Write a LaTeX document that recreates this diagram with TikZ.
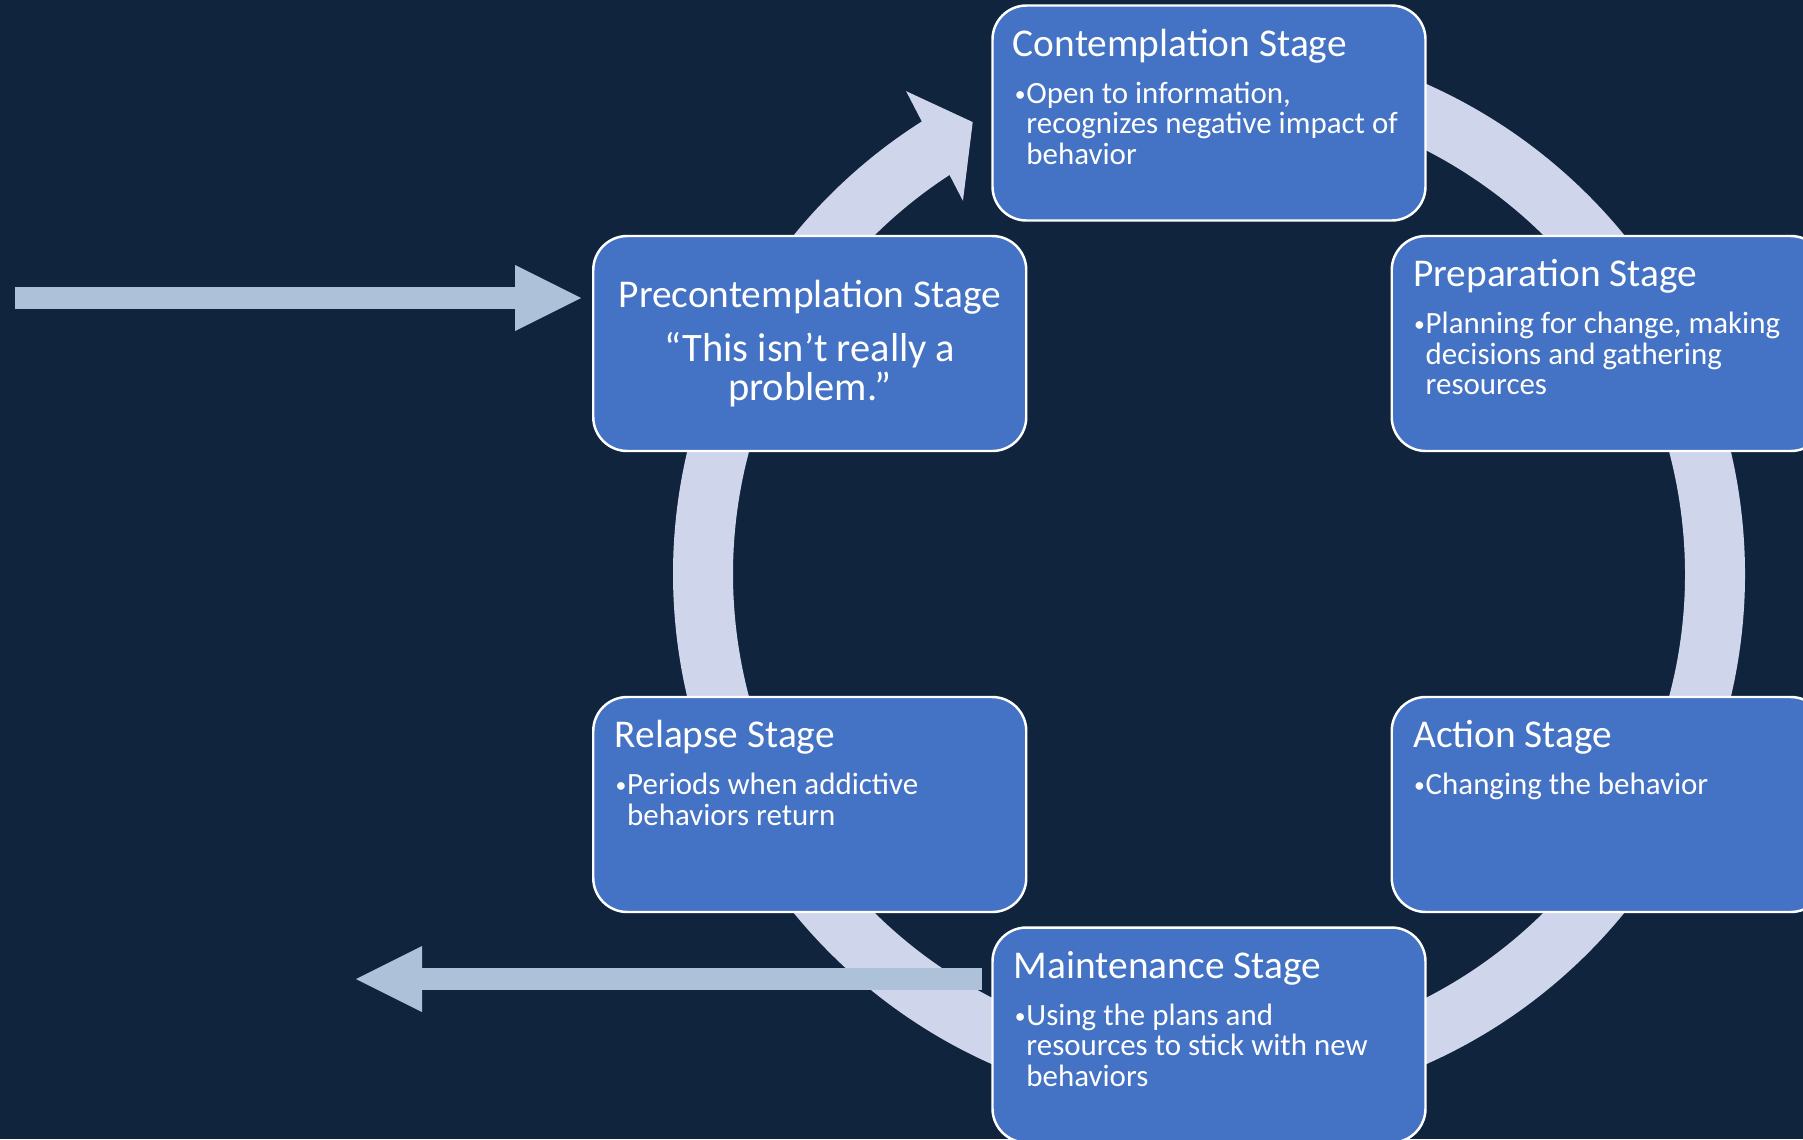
\documentclass[tikz,border=0pt]{standalone}
\usepackage{fontspec}
\setmainfont{Carlito}
\usepackage{xcolor}
\usepackage{tikz}
\usetikzlibrary{calc,positioning,arrows.meta}

\definecolor{bgnavy}{HTML}{10243E}
\definecolor{stageblue}{HTML}{4472C4}
\definecolor{ringgrey}{HTML}{CFD5EA}
\definecolor{flowblue}{HTML}{ADC2D9}

\newcommand{\bulletlines}[1]{\makebox[0.115cm][l]{\raisebox{0.15ex}{\scalebox{0.7}{•}}}\begin{tabular}[t]{@{}l@{}}#1\end{tabular}}

\begin{document}
\begin{tikzpicture}[
	stage/.style={draw=white,line width=0.7pt,fill=stageblue,rounded corners=0.34cm,minimum width=4.33cm,minimum height=2.15cm,inner sep=0pt},
	stagetitle/.style={text=white,inner sep=0pt,anchor=base west,font=\fontsize{11.2}{13}\selectfont},
	stagetext/.style={text=white,inner sep=0pt,anchor=base west,font=\fontsize{8.8}{8.54}\selectfont},
	stagequote/.style={text=white,inner sep=0pt,anchor=base,font=\fontsize{11.5}{9.4}\selectfont},
	cycle ring/.style={draw=ringgrey,line width=0.6cm},
	flowarrow/.style={draw=flowblue,line width=0.22cm,-{Triangle[length=0.66cm,width=0.66cm,line width=0pt]}}]
	\useasboundingbox (0,0) rectangle (18.03,-11.39);
	\clip (0,0) rectangle (18.03,-11.39);
	\fill[bgnavy] (0,0) rectangle (18.03,-11.39);
	\coordinate (C) at (12.09,-5.74);
	\draw[cycle ring] (C) ++(95:5.06) arc[start angle=95,end angle=-237.7,radius=5.06];
	\fill[ringgrey] ($(C)+(122.1:5.70)$) -- ($(C)+(117.6:5.10)$) -- ($(C)+(123.4:4.47)$) -- cycle;
	\node[stage] (pre) at ($(C)+(150:4.61)$) {};
	\node[stage] (con) at ($(C)+(90:4.61)$) {};
	\node[stage] (prep) at ($(C)+(30:4.61)$) {};
	\node[stage] (act) at ($(C)+(-30:4.61)$) {};
	\node[stage] (main) at ($(C)+(-90:4.61)$) {};
	\node[stage] (rel) at ($(C)+(210:4.61)$) {};
	\node[stagetitle,anchor=base] (pre title) at ($(pre.north)+(0,-0.73)$) {Precontemplation Stage};
	\node[stagequote] (pre quote) at ($(pre.north)+(0,-1.27)$) {\begin{tabular}[t]{@{}c@{}}“This isn’t really a\\problem.”\end{tabular}};
	\node[stagetitle] (con title) at ($(con.north west)+(0.21,-0.52)$) {Contemplation Stage};
	\node[stagetext] (con text) at ($(con.north west)+(0.23,-0.99)$) {\bulletlines{Open to information,\\recognizes negative impact of\\behavior}};
	\node[stagetitle] (prep title) at ($(prep.north west)+(0.22,-0.52)$) {Preparation Stage};
	\node[stagetext] (prep text) at ($(prep.north west)+(0.23,-0.99)$) {\bulletlines{Planning for change, making\\decisions and gathering\\resources}};
	\node[stagetitle] (act title) at ($(act.north west)+(0.22,-0.52)$) {Action Stage};
	\node[stagetext] (act text) at ($(act.north west)+(0.23,-0.99)$) {\bulletlines{Changing the behavior}};
	\node[stagetitle] (main title) at ($(main.north west)+(0.22,-0.52)$) {Maintenance Stage};
	\node[stagetext] (main text) at ($(main.north west)+(0.23,-0.99)$) {\bulletlines{Using the plans and\\resources to stick with new\\behaviors}};
	\node[stagetitle] (rel title) at ($(rel.north west)+(0.22,-0.52)$) {Relapse Stage};
	\node[stagetext] (rel text) at ($(rel.north west)+(0.23,-0.99)$) {\bulletlines{Periods when addictive\\behaviors return}};
	\coordinate (entry) at (0.15,-2.98);
	\draw[flowarrow,shorten >=0.11cm] (entry) -- (entry -| pre.west);
	\coordinate (exit) at (3.56,-9.79);
	\draw[flowarrow,shorten <=0.09cm] (main.west |- exit) -- (exit);
\end{tikzpicture}
\end{document}
